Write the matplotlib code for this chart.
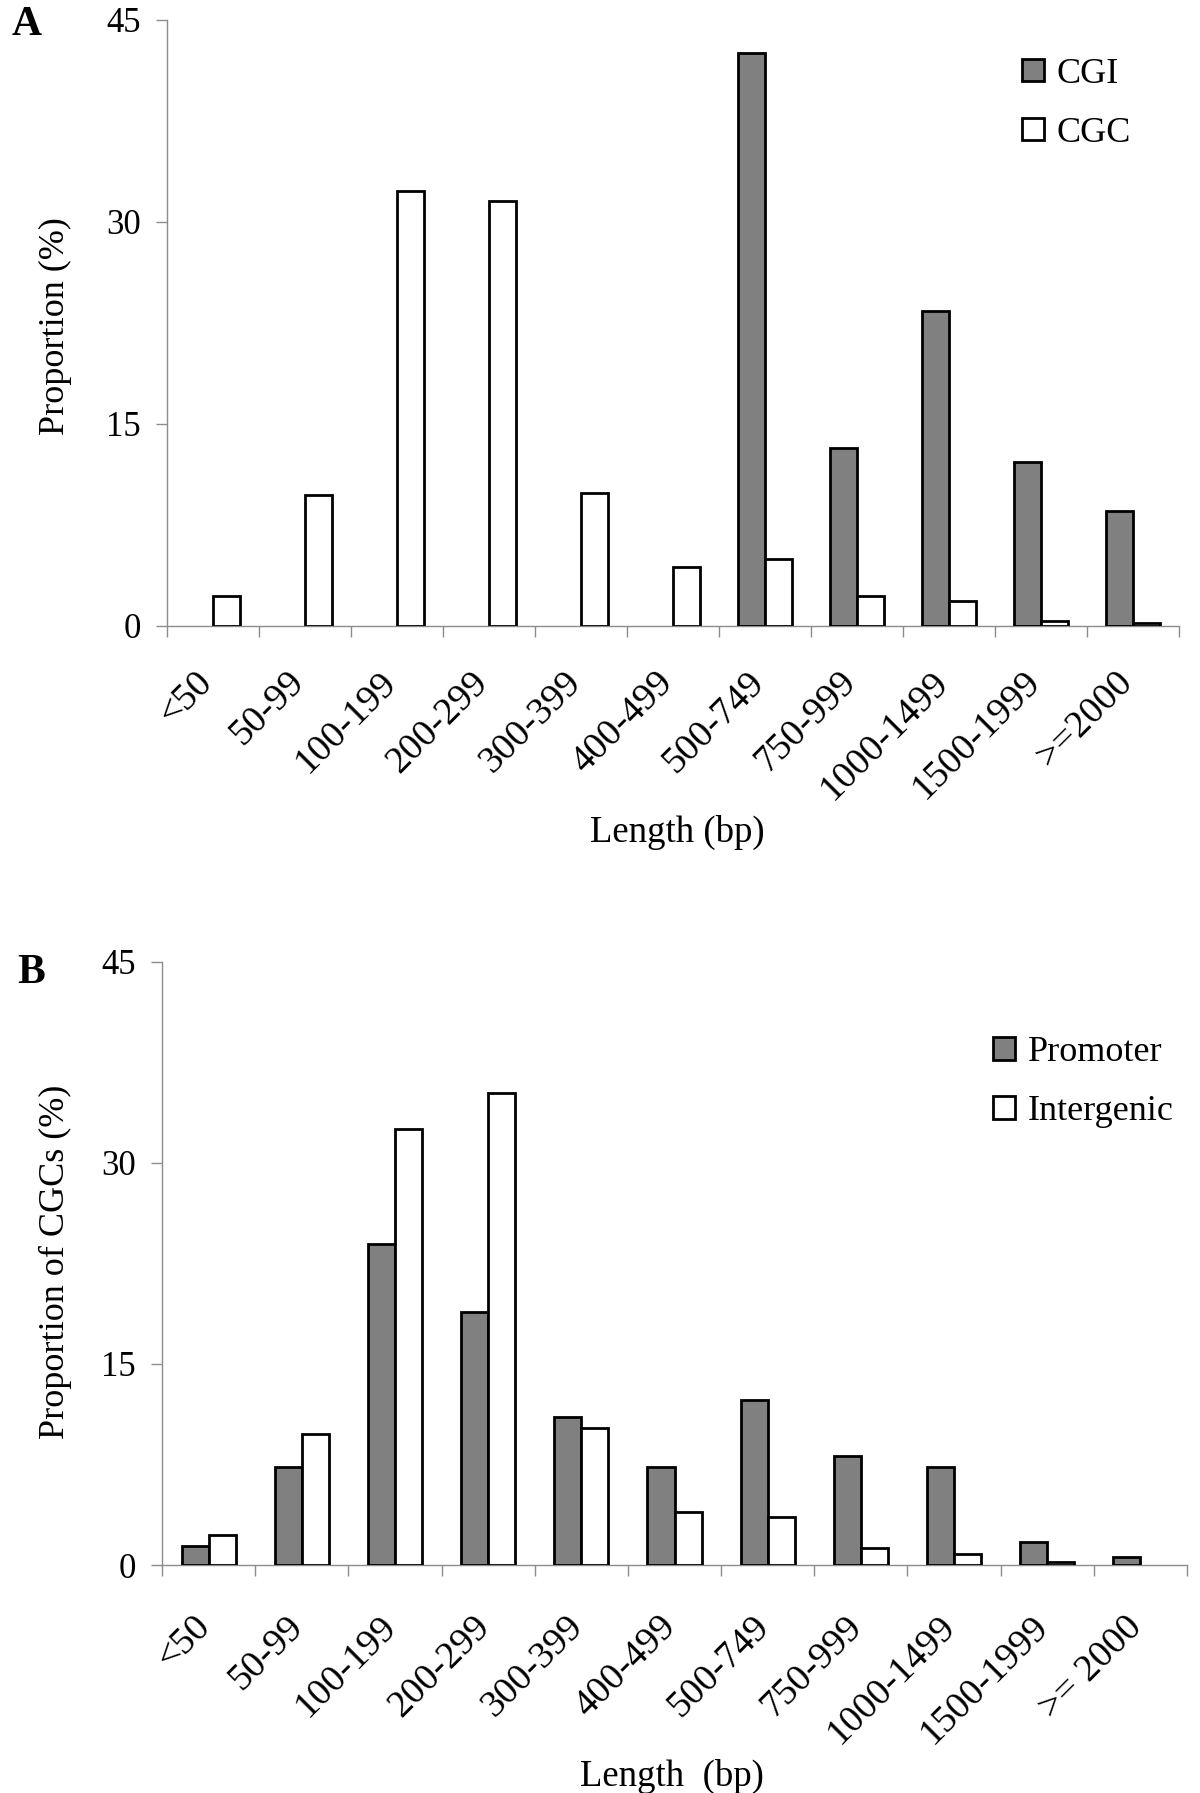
import matplotlib
matplotlib.use("Agg")
import matplotlib.pyplot as plt
import matplotlib.transforms as mtransforms
from matplotlib.patches import Patch
import numpy as np

plt.rcParams['font.family'] = ['Liberation Serif', 'DejaVu Serif']

categories = ["<50", "50-99", "100-199", "200-299", "300-399", "400-499",
              "500-749", "750-999", "1000-1499", "1500-1999", ">=2000"]
categories_b = ["<50", "50-99", "100-199", "200-299", "300-399", "400-499",
                "500-749", "750-999", "1000-1499", "1500-1999", ">= 2000"]

cgi = [0, 0, 0, 0, 0, 0, 42.5, 13.2, 23.4, 12.2, 8.5]
cgc = [2.25, 9.75, 32.3, 31.5, 9.9, 4.35, 4.95, 2.25, 1.85, 0.35, 0.2]

promoter = [1.45, 7.3, 23.95, 18.9, 11.05, 7.3, 12.3, 8.15, 7.3, 1.7, 0.62]
intergenic = [2.25, 9.8, 32.5, 35.2, 10.2, 3.95, 3.55, 1.25, 0.85, 0.25, 0.0]

yticks = [0, 15, 30, 45]

W, H = 1200, 1793
fig = plt.figure(figsize=(W / 100, H / 100), dpi=100)

GRAY = "#808080"
AX_GRAY = "#8c8c8c"
bw = 0.29
LW = 2.0


def px(x0, y0, x1, y1):
    # pixel box (left, top, right, bottom) -> figure fraction rect
    return [x0 / W, 1 - y1 / H, (x1 - x0) / W, (y1 - y0) / H]


def draw(ax, s1, s2, labels, name1, name2, pad_x, pad_y, leg_anchor):
    x = np.arange(len(labels))
    b1 = ax.bar(x - bw / 2, s1, width=bw, color=GRAY, edgecolor="black",
                linewidth=LW, zorder=3)
    b2 = ax.bar(x + bw / 2, s2, width=bw, color="white", edgecolor="black",
                linewidth=LW, zorder=3)
    for rect, v in zip(b1, s1):
        if v == 0:
            rect.set_visible(False)
    for rect, v in zip(b2, s2):
        if v == 0:
            rect.set_visible(False)
    ax.set_xlim(-0.5, len(labels) - 0.5)
    ax.set_ylim(0, 45)
    for sp in ["top", "right"]:
        ax.spines[sp].set_visible(False)
    for sp in ["left", "bottom"]:
        ax.spines[sp].set_color(AX_GRAY)
        ax.spines[sp].set_linewidth(1.0)
    ax.set_yticks(yticks)
    ax.set_yticklabels([str(v) for v in yticks], fontsize=25)
    ax.tick_params(axis="y", direction="out", length=8, width=1.0,
                   color=AX_GRAY, pad=11)
    ax.set_xticks(np.arange(-0.5, len(labels), 1.0))
    ax.set_xticklabels([])
    ax.tick_params(axis="x", which="major", direction="out", length=8,
                   width=1.0, color=AX_GRAY)
    ax.set_xticks(x, minor=True)
    ax.set_xticklabels(labels, minor=True, fontsize=27.5, rotation=45,
                       ha="right", va="top", rotation_mode="anchor")
    ax.tick_params(axis="x", which="minor", length=0, pad=pad_y)
    off = mtransforms.ScaledTranslation(pad_x / 100, 0, fig.dpi_scale_trans)
    for lab in ax.get_xticklabels(minor=True):
        lab.set_transform(lab.get_transform() + off)
    handles = [Patch(facecolor=GRAY, edgecolor="black", linewidth=LW, label=name1),
               Patch(facecolor="white", edgecolor="black", linewidth=LW, label=name2)]
    ax.legend(handles=handles, loc="upper left", bbox_to_anchor=leg_anchor,
              frameon=False, fontsize=26, handlelength=0.6, handleheight=0.6,
              handletextpad=0.35, labelspacing=0.72, borderpad=0,
              borderaxespad=0)


axA = fig.add_axes(px(167, 19.5, 1179, 626))
draw(axA, cgi, cgc, categories, "CGI", "CGC", -18, 28, (0.845, 0.937))

axB = fig.add_axes(px(162, 961.6, 1187, 1565))
draw(axB, promoter, intergenic, categories_b, "Promoter", "Intergenic",
     -16, 32, (0.811, 0.877))

fig.text(55 / W, 1 - 326 / H, "Proportion (%)", rotation=90, fontsize=26,
         ha="center", va="center")
fig.text(55 / W, 1 - 1262 / H, "Proportion of CGCs (%)", rotation=90,
         fontsize=26, ha="center", va="center")
fig.text(677 / W, 1 - 832 / H, "Length (bp)", fontsize=26.5,
         ha="center", va="center")
fig.text(672 / W, 1 - 1776 / H, "Length  (bp)", fontsize=26.5,
         ha="center", va="center")
fig.text(27 / W, 1 - 25 / H, "A", fontsize=30, fontweight="bold",
         ha="center", va="center")
fig.text(31 / W, 1 - 973 / H, "B", fontsize=30, fontweight="bold",
         ha="center", va="center")

fig.savefig("out.png", dpi=100, facecolor="white")
